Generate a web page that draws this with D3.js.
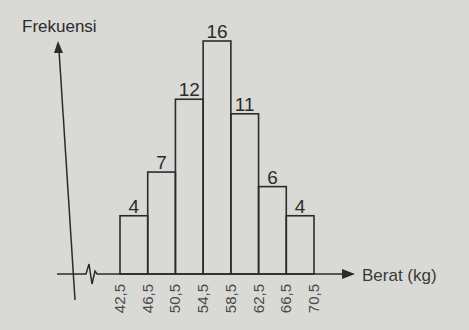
<!DOCTYPE html>
<html>
<head>
<meta charset="utf-8">
<script src="https://cdn.jsdelivr.net/npm/d3@7"></script>
<style>
	body { margin: 0; background: #d9d9d6; }
	svg { display: block; font-family: "Liberation Sans", Arial, sans-serif; }
</style>
</head>
<body>
<svg id="chart" width="469" height="330"></svg>
<script>
const edges = [ 42.5, 46.5, 50.5, 54.5, 58.5, 62.5, 66.5, 70.5 ];
const tickLabels = [ '42,5', '46,5', '50,5', '54,5', '58,5', '62,5', '66,5', '70,5' ];
const frequencies = [ 4, 7, 12, 16, 11, 6, 4 ];

const svg = d3.select('#chart');
const ink = '#2b2b2b';

let xScale = d3.scaleLinear().domain([ 42.5, 70.5 ]).range([ 120, 314 ]);
let yScale = d3.scaleLinear().domain([ 0, 16 ]).range([ 274, 41 ]);
let baseY = yScale(0);

// bars
let bins = frequencies.map(function(f, i) { return { x0: edges[i], x1: edges[i + 1], f: f }; });
svg.selectAll('.bar')
	.data(bins)
	.enter().append('rect')
	.attr('class', 'bar')
	.attr('x', function(d) { return xScale(d.x0); })
	.attr('y', function(d) { return yScale(d.f); })
	.attr('width', function(d) { return xScale(d.x1) - xScale(d.x0); })
	.attr('height', function(d) { return baseY - yScale(d.f); })
	.style('fill', 'none')
	.style('stroke', ink)
	.style('stroke-width', 1.6);

svg.selectAll('.val')
	.data(bins)
	.enter().append('text')
	.attr('class', 'val')
	.attr('x', function(d) { return (xScale(d.x0) + xScale(d.x1)) / 2; })
	.attr('y', function(d) { return yScale(d.f) - 3; })
	.style('text-anchor', 'middle')
	.style('font-size', '19px')
	.style('fill', ink)
	.text(function(d) { return d.f; });

// x axis with break
svg.append('path')
	.attr('d', 'M57,' + baseY + 'L86,' + baseY + 'L89,264L92,284L95,271L97,' + baseY + 'L343,' + baseY)
	.style('fill', 'none')
	.style('stroke', ink)
	.style('stroke-width', 1.5);
svg.append('path')
	.attr('d', 'M342,' + (baseY - 5) + 'L355,' + baseY + 'L342,' + (baseY + 5) + 'Z')
	.style('fill', ink);

// y axis (slightly tilted as in the photo)
svg.append('line')
	.attr('x1', 75).attr('y1', 300)
	.attr('x2', 59).attr('y2', 50)
	.style('stroke', ink)
	.style('stroke-width', 1.5);
svg.append('path')
	.attr('d', 'M58,41L54,53L63,53Z')
	.style('fill', ink);

// tick labels
svg.selectAll('.tick-label')
	.data(edges)
	.enter().append('text')
	.attr('class', 'tick-label')
	.attr('transform', function(d) { return 'translate(' + (xScale(d) + 5) + ',284) rotate(-90)'; })
	.style('text-anchor', 'end')
	.style('font-size', '15px')
	.style('fill', '#4a4a4a')
	.text(function(d, i) { return tickLabels[i]; });

svg.append('text')
	.attr('x', 22).attr('y', 32)
	.style('font-size', '17px')
	.style('fill', ink)
	.text('Frekuensi');
svg.append('text')
	.attr('x', 362).attr('y', 281)
	.style('font-size', '17px')
	.style('fill', '#3a3a3a')
	.text('Berat (kg)');
</script>
</body>
</html>
